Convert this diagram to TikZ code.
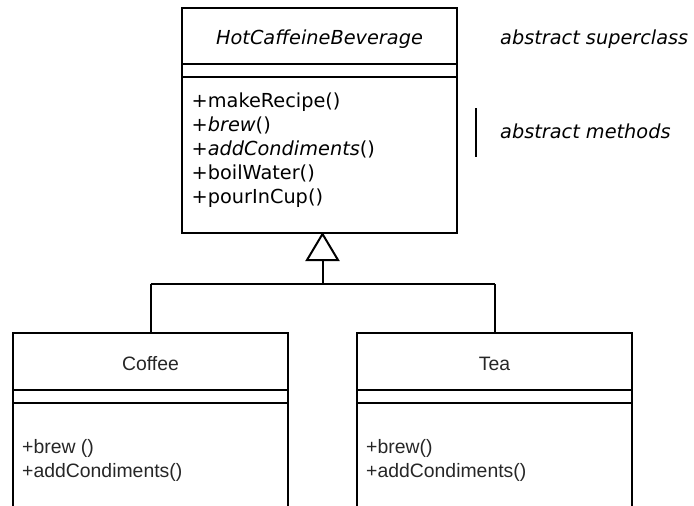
\documentclass[tikz,border=0pt]{standalone}
\usepackage{fontspec}
\setmainfont{DejaVu Sans}
\newfontfamily\arialf{Liberation Sans}
\begin{document}
\begin{tikzpicture}[x=1pt,y=-1pt,
  classbox/.style={draw=black, line width=2pt, minimum width=275pt, anchor=north west, inner sep=0pt, outer sep=0pt},
  topfont/.style={font=\fontsize{19.3}{24}\selectfont, inner sep=0pt},
  botfont/.style={font=\arialf\fontsize{19.4}{23}\selectfont, inner sep=0pt, text=black!85},
  sepline/.style={line width=2pt},
  link/.style={line width=2pt, line join=miter}]
\useasboundingbox (0,0) rectangle (694,506);
\clip (0,0) rectangle (694,506);

% superclass
\node[classbox, minimum height=225pt] (hcb) at (182,8) {};
\draw[sepline] ([yshift=-56pt]hcb.north west) -- ([yshift=-56pt]hcb.north east);
\draw[sepline] ([yshift=-69pt]hcb.north west) -- ([yshift=-69pt]hcb.north east);
\node[topfont, anchor=base] (hcbname) at (319.5,45) {\textit{HotCaffeineBeverage}};
\node[topfont, anchor=base west] (m1) at (191.5,107.5) {+makeRecipe()};
\node[topfont, anchor=base west] (m2) at (191.5,131.4) {+\textit{brew}()};
\node[topfont, anchor=base west] (m3) at (191.5,155.3) {+\textit{addCondiments}()};
\node[topfont, anchor=base west] (m4) at (191.5,179.2) {+boilWater()};
\node[topfont, anchor=base west] (m5) at (191.5,203.1) {+pourInCup()};

% annotations
\node[topfont, anchor=base west] (lsuper) at (500,45) {\textit{abstract superclass}};
\node[topfont, anchor=base west] (lmeth) at (500,138.3) {\textit{abstract methods}};
\coordinate (bartop) at (476,108);
\coordinate (barbot) at (476,157);
\draw[line width=1.5pt] (bartop) -- (barbot);

% subclasses
\node[classbox, minimum height=200pt] (coffee) at (13,333) {};
\draw[sepline] ([yshift=-57pt]coffee.north west) -- ([yshift=-57pt]coffee.north east);
\draw[sepline] ([yshift=-69.5pt]coffee.north west) -- ([yshift=-69.5pt]coffee.north east);
\node[botfont, anchor=base] (coffeename) at (150.5,370.7) {Coffee};
\node[botfont, anchor=base west] (c1) at (22,453.3) {+brew ()};
\node[botfont, anchor=base west] (c2) at (22,477.3) {+addCondiments()};

\node[classbox, minimum height=200pt] (tea) at (357,333) {};
\draw[sepline] ([yshift=-57pt]tea.north west) -- ([yshift=-57pt]tea.north east);
\draw[sepline] ([yshift=-69.5pt]tea.north west) -- ([yshift=-69.5pt]tea.north east);
\node[botfont, anchor=base] (teaname) at (494.5,370.7) {Tea};
\node[botfont, anchor=base west] (t1) at (366,453.3) {+brew()};
\node[botfont, anchor=base west] (t2) at (366,477.3) {+addCondiments()};

% generalization
\coordinate (apex) at (322.5,234);
\coordinate (triL) at (307,260);
\coordinate (triR) at (338,260);
\coordinate (triB) at (322.5,260);
\coordinate (junction) at (322.5,284);
\draw[link] (apex) -- (triL) -- (triR) -- cycle;
\draw[link] (triB) -- (junction);
\draw[link] (coffee.north |- junction) -- (tea.north |- junction);
\draw[link] (coffee.north |- junction) -- (coffee.north);
\draw[link] (tea.north |- junction) -- (tea.north);
\end{tikzpicture}
\end{document}
